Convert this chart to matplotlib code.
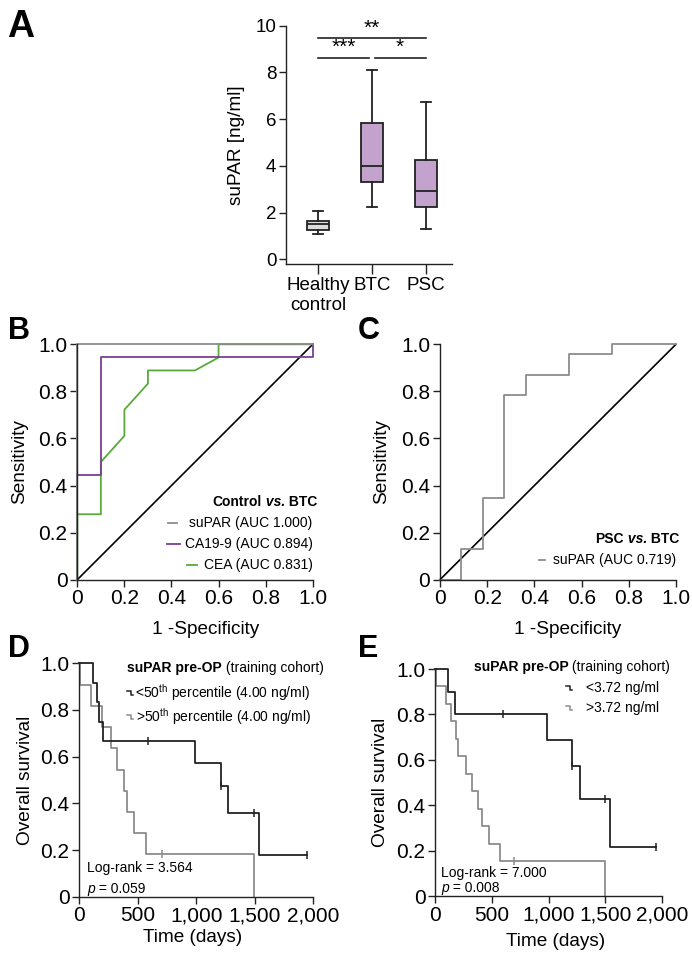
import matplotlib
matplotlib.use("Agg")
import matplotlib.pyplot as plt
from matplotlib.ticker import FuncFormatter

plt.rcParams['font.family'] = ['Liberation Sans', 'DejaVu Sans']
plt.rcParams['mathtext.fontset'] = 'custom'
plt.rcParams['mathtext.rm'] = 'Liberation Sans'
plt.rcParams['mathtext.it'] = 'Liberation Sans:italic'
plt.rcParams['mathtext.bf'] = 'Liberation Sans:bold'

# ---- data: panel A (box plot summary, ng/ml)
groups = ['Healthy\ncontrol', 'BTC', 'PSC']
box_med = [1.50, 4.00, 2.92]
box_q1 = [1.27, 3.32, 2.25]
box_q3 = [1.62, 5.82, 4.27]
box_lo = [1.10, 2.25, 1.30]
box_hi = [2.05, 8.12, 6.72]
box_fill = ['#dcdcdc', '#c3a3cd', '#c3a3cd']

# ---- data: panel B (ROC, control vs BTC)
supar_b_fpr = [0, 0, 1]
supar_b_tpr = [0, 1, 1]
ca199_fpr = [0, 0, 0.1, 0.1, 1, 1]
ca199_tpr = [0, 0.444, 0.444, 0.944, 0.944, 1]
cea_fpr = [0, 0, 0.1, 0.1, 0.2, 0.2, 0.3, 0.3, 0.5, 0.6, 0.6, 1]
cea_tpr = [0, 0.278, 0.278, 0.5, 0.611, 0.722, 0.833, 0.889, 0.889, 0.944, 1, 1]

# ---- data: panel C (ROC, PSC vs BTC)
supar_c_fpr = [0, 0.091, 0.091, 0.182, 0.182, 0.273, 0.273, 0.364, 0.364, 0.545, 0.545, 0.727, 0.727, 1]
supar_c_tpr = [0, 0, 0.13, 0.13, 0.348, 0.348, 0.783, 0.783, 0.87, 0.87, 0.957, 0.957, 1, 1]

# ---- data: panel D (Kaplan-Meier, 50th percentile cut-off)
d_low_t = [0, 120, 148, 172, 200, 988, 1210, 1273, 1538, 1950]
d_low_s = [1.0, 0.917, 0.833, 0.75, 0.667, 0.571, 0.476, 0.357, 0.179, 0.179]
d_low_cens_t = [590, 1210, 1493, 1949]
d_low_cens_s = [0.667, 0.476, 0.357, 0.179]
d_high_t = [0, 4, 97, 190, 275, 320, 380, 405, 470, 567, 1493]
d_high_s = [1.0, 0.909, 0.818, 0.727, 0.636, 0.545, 0.455, 0.364, 0.273, 0.182, 0.0]
d_high_cens_t = [703]
d_high_cens_s = [0.182]

# ---- data: panel E (Kaplan-Meier, 3.72 ng/ml cut-off)
e_low_t = [0, 109, 176, 985, 1206, 1279, 1544, 1947]
e_low_s = [1.0, 0.9, 0.8, 0.686, 0.571, 0.429, 0.214, 0.214]
e_low_cens_t = [594, 1206, 1500, 1947]
e_low_cens_s = [0.8, 0.571, 0.429, 0.214]
e_high_t = [0, 4, 94, 138, 182, 200, 270, 323, 378, 408, 470, 570, 1500]
e_high_s = [1.0, 0.923, 0.846, 0.769, 0.692, 0.615, 0.538, 0.462, 0.385, 0.308, 0.231, 0.154, 0.0]
e_high_cens_t = [697]
e_high_cens_s = [0.154]

GRAY = '#8c8c8c'
PURPLE = '#7b3f91'
GREEN = '#58aa3a'
DARK = '#222222'
TICK = 15
LAB = 13.7


def style_axes(ax, tsize=TICK):
    for s in ['top', 'right']:
        ax.spines[s].set_visible(False)
    for s in ['left', 'bottom']:
        ax.spines[s].set_linewidth(1.0)
        ax.spines[s].set_color(DARK)
    ax.tick_params(direction='out', length=5, width=1.0, color=DARK,
                   labelsize=tsize, pad=2)


def chain(ax, x, y, pieces, size, ha='left'):
    # pieces: list of (text, weight, style); drawn side by side
    if ha == 'left':
        t = ax.text(x, y, pieces[0][0], transform=ax.transAxes, fontsize=size,
                    weight=pieces[0][1], style=pieces[0][2], ha='left', va='bottom')
        for txt, w, st in pieces[1:]:
            t = ax.annotate(txt, xy=(1, 0), xycoords=t, fontsize=size,
                            weight=w, style=st, ha='left', va='bottom')
    else:
        t = ax.text(x, y, pieces[-1][0], transform=ax.transAxes, fontsize=size,
                    weight=pieces[-1][1], style=pieces[-1][2], ha='right', va='bottom')
        for txt, w, st in pieces[-2::-1]:
            t = ax.annotate(txt, xy=(0, 0), xycoords=t, fontsize=size,
                            weight=w, style=st, ha='right', va='bottom')


fig = plt.figure(figsize=(6.92, 9.71), dpi=100)

# ================= A =================
axA = fig.add_axes([0.4133, 0.7281, 0.2399, 0.2454])
stats = []
for i in range(3):
    stats.append(dict(med=box_med[i], q1=box_q1[i], q3=box_q3[i],
                      whislo=box_lo[i], whishi=box_hi[i], fliers=[]))
bp = axA.bxp(stats, positions=[1, 2, 3], widths=0.42, patch_artist=True,
             showfliers=False,
             boxprops=dict(edgecolor=DARK, linewidth=1.3),
             medianprops=dict(color=DARK, linewidth=1.3),
             whiskerprops=dict(color=DARK, linewidth=1.3),
             capprops=dict(color=DARK, linewidth=1.3), capwidths=0.17)
for patch, c in zip(bp['boxes'], box_fill):
    patch.set_facecolor(c)
axA.set_xlim(0.41, 3.48)
axA.set_ylim(-0.2, 10)
axA.set_yticks([0, 2, 4, 6, 8, 10])
axA.set_xticks([1, 2, 3])
axA.set_xticklabels(groups, va='top', linespacing=1.3)
style_axes(axA, 13.5)
axA.tick_params(axis='x', length=7)
axA.spines['left'].set_bounds(-0.2, 10)
axA.set_ylabel('suPAR [ng/ml]', fontsize=LAB)
axA.yaxis.set_label_coords(-0.25, 0.5)
# significance bars
axA.plot([1, 3], [9.46, 9.46], color=DARK, lw=1.2)
axA.plot([1, 1.95], [8.63, 8.63], color=DARK, lw=1.2)
axA.plot([2.05, 3], [8.63, 8.63], color=DARK, lw=1.2)
axA.text(2, 9.5, '**', ha='center', va='bottom', fontsize=15)
axA.text(1.47, 8.67, '***', ha='center', va='bottom', fontsize=15)
axA.text(2.52, 8.67, '*', ha='center', va='bottom', fontsize=15)

# ================= B =================
axB = fig.add_axes([0.1117, 0.4030, 0.3402, 0.2424])
axB.plot([0, 1], [0, 1], color='black', lw=1.2, clip_on=False)
axB.plot(cea_fpr, cea_tpr, color=GREEN, lw=1.3, clip_on=False)
axB.plot(ca199_fpr, ca199_tpr, color=PURPLE, lw=1.3, clip_on=False)
axB.plot(supar_b_fpr, supar_b_tpr, color=GRAY, lw=1.3, clip_on=False)

# ================= C =================
axC = fig.add_axes([0.6358, 0.4030, 0.3410, 0.2424])
axC.plot([0, 1], [0, 1], color='black', lw=1.2, clip_on=False)
axC.plot(supar_c_fpr, supar_c_tpr, color=GRAY, lw=1.3, clip_on=False)

for ax in (axB, axC):
    ax.set_xlim(0, 1)
    ax.set_ylim(0, 1)
    ticks = [0, 0.2, 0.4, 0.6, 0.8, 1.0]
    ax.set_xticks(ticks)
    ax.set_yticks(ticks)
    labs = ['0', '0.2', '0.4', '0.6', '0.8', '1.0']
    ax.set_xticklabels(labs)
    ax.set_yticklabels(labs)
    style_axes(ax)
    ax.set_ylabel('Sensitivity', fontsize=LAB)
    ax.set_xlabel('1 -Specificity', fontsize=LAB, va='top')
axB.yaxis.set_label_coords(-0.21, 0.5)
axC.yaxis.set_label_coords(-0.212, 0.5)
axB.xaxis.set_label_coords(0.547, -0.175)
axC.xaxis.set_label_coords(0.542, -0.175)

# legend B
chain(axB, 1.02, 0.30, [('Control', 'bold', 'normal'), (' vs.', 'bold', 'italic'),
                        (' BTC', 'bold', 'normal')], 10, ha='right')
legB = [('suPAR (AUC 1.000)', GRAY, 0.385, 0.424, 0.240),
        ('CA19-9 (AUC 0.894)', PURPLE, 0.382, 0.435, 0.151),
        ('CEA (AUC 0.831)', GREEN, 0.466, 0.508, 0.062)]
for txt, col, x0, x1, yy in legB:
    axB.text(1.0, yy, txt, transform=axB.transAxes, ha='right', va='center', fontsize=10)
    axB.plot([x0, x1], [yy, yy], transform=axB.transAxes, color=col, lw=1.3)

# legend C
chain(axC, 1.015, 0.145, [('PSC', 'bold', 'normal'), (' vs.', 'bold', 'italic'),
                          (' BTC', 'bold', 'normal')], 10, ha='right')
axC.text(1.0, 0.085, 'suPAR (AUC 0.719)', transform=axC.transAxes, ha='right',
         va='center', fontsize=10)
axC.plot([0.421, 0.447], [0.085, 0.085], transform=axC.transAxes, color=GRAY, lw=1.3)

# ================= D / E =================
axD = fig.add_axes([0.1146, 0.0765, 0.3382, 0.2404])
axE = fig.add_axes([0.6290, 0.0772, 0.3276, 0.2338])

km = [(axD, d_low_t, d_low_s, d_low_cens_t, d_low_cens_s,
       d_high_t, d_high_s, d_high_cens_t, d_high_cens_s),
      (axE, e_low_t, e_low_s, e_low_cens_t, e_low_cens_s,
       e_high_t, e_high_s, e_high_cens_t, e_high_cens_s)]
for ax, lt, ls, lct, lcs, ht, hs, hct, hcs in km:
    ax.step(ht, hs, where='post', color=GRAY, lw=1.3, clip_on=False)
    ax.plot(hct, hcs, ls='none', marker='|', ms=6, mew=1.1, color=GRAY)
    ax.step(lt, ls, where='post', color=DARK, lw=1.3, clip_on=False)
    ax.plot(lct, lcs, ls='none', marker='|', ms=6, mew=1.1, color=DARK)
    ax.set_xlim(0, 2000)
    ax.set_ylim(0, 1)
    ax.set_xticks([0, 500, 1000, 1500, 2000])
    ax.xaxis.set_major_formatter(FuncFormatter(lambda v, p: f'{int(v):,}'))
    ax.set_yticks([0, 0.2, 0.4, 0.6, 0.8, 1.0])
    ax.set_yticklabels(['0', '0.2', '0.4', '0.6', '0.8', '1.0'])
    style_axes(ax)
    ax.set_ylabel('Overall survival', fontsize=LAB)
    ax.set_xlabel('Time (days)', fontsize=LAB, va='top')

axD.yaxis.set_label_coords(-0.194, 0.5)
axE.yaxis.set_label_coords(-0.204, 0.5)
axD.xaxis.set_label_coords(0.484, -0.14)
axE.xaxis.set_label_coords(0.532, -0.165)


def km_glyph(ax, x, y, w, h, col):
    ax.plot([x, x + w * 0.65, x + w * 0.65, x + w], [y + h / 2, y + h / 2, y - h / 2, y - h / 2],
            transform=ax.transAxes, color=col, lw=1.1, clip_on=False)


# legend D
chain(axD, 0.204, 0.95, [('suPAR pre-OP', 'bold', 'normal'),
                         (' (training cohort)', 'normal', 'normal')], 10)
axD.text(0.238, 0.873, '<50$^{\\rm th}$ percentile (4.00 ng/ml)', transform=axD.transAxes,
         ha='left', va='center', fontsize=10)
axD.text(0.242, 0.77, '>50$^{\\rm th}$ percentile (4.00 ng/ml)', transform=axD.transAxes,
         ha='left', va='center', fontsize=10)
km_glyph(axD, 0.204, 0.873, 0.024, 0.014, DARK)
km_glyph(axD, 0.204, 0.77, 0.024, 0.014, GRAY)
axD.text(0.034, 0.123, 'Log-rank = 3.564', transform=axD.transAxes, ha='left',
         va='center', fontsize=10)
chain(axD, 0.034, 0.005, [('p', 'normal', 'italic'), (' = 0.059', 'normal', 'normal')], 10)

# legend E
chain(axE, 0.169, 0.98, [('suPAR pre-OP', 'bold', 'normal'),
                         (' (training cohort)', 'normal', 'normal')], 10)
axE.text(0.665, 0.916, '<3.72 ng/ml', transform=axE.transAxes, ha='left',
         va='center', fontsize=10)
axE.text(0.665, 0.828, '>3.72 ng/ml', transform=axE.transAxes, ha='left',
         va='center', fontsize=10)
km_glyph(axE, 0.577, 0.916, 0.028, 0.014, DARK)
km_glyph(axE, 0.577, 0.828, 0.028, 0.014, GRAY)
axE.text(0.025, 0.103, 'Log-rank = 7.000', transform=axE.transAxes, ha='left',
         va='center', fontsize=10)
chain(axE, 0.025, 0.005, [('p', 'normal', 'italic'), (' = 0.008', 'normal', 'normal')], 10)

# panel letters
for letter, px, py, fs in [('A', 7, 37, 27), ('B', 8, 339, 22), ('C', 358, 339, 22),
                           ('D', 8, 657, 22), ('E', 358, 657, 22)]:
    fig.text(px / 692, 1 - py / 971, letter, fontsize=fs, weight='bold',
             ha='left', va='baseline')

fig.savefig('out.png', dpi=100)
